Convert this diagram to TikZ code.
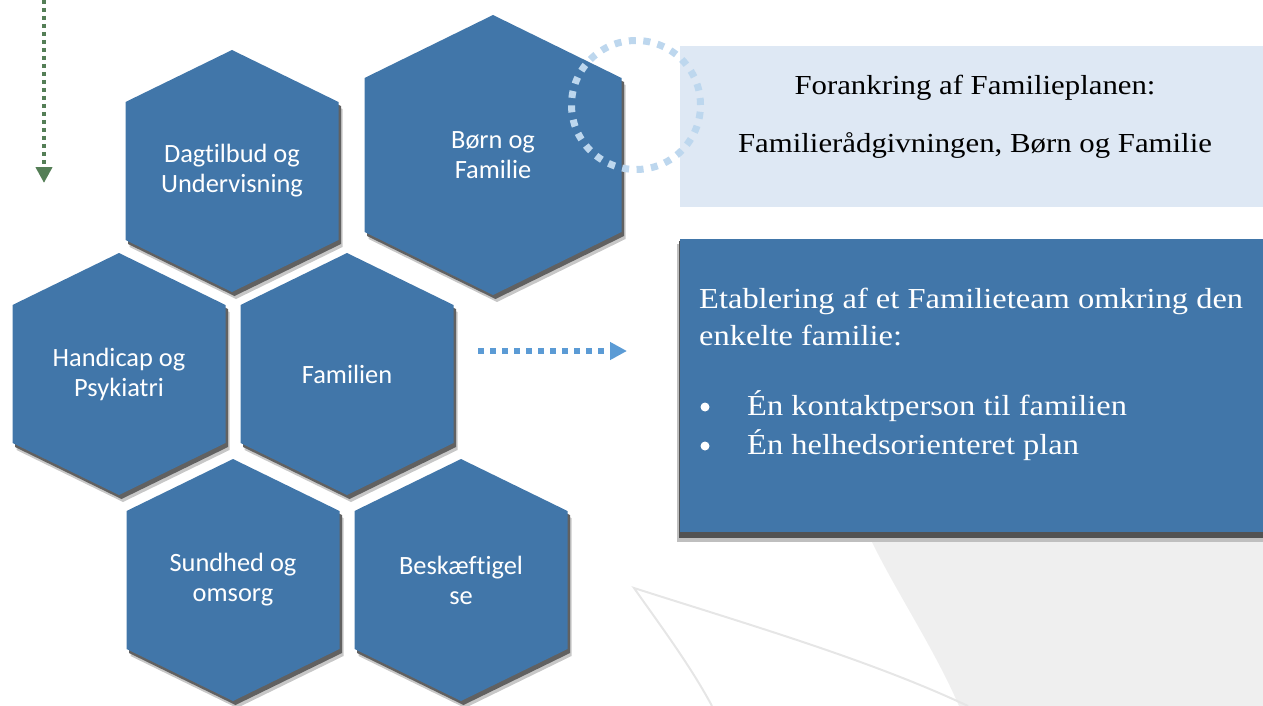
\documentclass[tikz,border=0pt]{standalone}
\usepackage{fontspec}
\newfontfamily\hexfont[Ligatures=NoCommon]{Carlito}
\newfontfamily\boxfont[FakeStretch=1.12]{Liberation Serif}
\usetikzlibrary{arrows.meta}

\definecolor{hexblue}{RGB}{65,118,169}
\definecolor{paleblue}{RGB}{222,232,244}
\definecolor{ringblue}{RGB}{189,215,238}
\definecolor{linkblue}{RGB}{91,155,213}
\definecolor{flowgreen}{RGB}{84,126,86}
\definecolor{bggrey}{RGB}{239,239,239}
\definecolor{edgegrey}{RGB}{230,230,230}

\tikzset{
  hex label/.style={text=white, align=center, font=\hexfont\fontsize{26.4}{30}\selectfont},
  box text/.style={anchor=base west, text=white, inner sep=0pt, font=\boxfont\fontsize{29}{38}\selectfont},
  plan text/.style={anchor=base, inner sep=0pt, font=\boxfont\fontsize{27.5}{36}\selectfont},
  bullet dot/.style={circle, fill=white, minimum size=9pt, inner sep=0pt},
  dotted link/.style={line width=6pt, dash pattern=on 6pt off 6pt, -{Triangle[length=17pt,width=17pt]}}
}

\begin{document}
\begin{tikzpicture}[x=1pt, y=-1pt]
\useasboundingbox (0,0) rectangle (1263,706);

\fill[bggrey] (871,540) .. controls (895,590) and (935,650) .. (959,706)
  -- (1263,706) -- (1263,540) -- cycle;
\draw[edgegrey, line width=2pt] (712,706) .. controls (690,665) and (660,625) .. (634,588)
  .. controls (750,625) and (870,660) .. (968,706);

\foreach \n/\x/\y/\hw/\hh/\hc/\txt in {
    dag/232/171/106.5/121/52/{Dagtilbud og\\Undervisning},
    born/493/155/128.5/140/63/{Børn og\\Familie},
    handicap/119/374/106.5/121/52/{Handicap og\\Psykiatri},
    familien/347/374/106.5/121/52/Familien,
    sundhed/233/580/106.5/121/52/{Sundhed og\\omsorg},
    besk/461/580/106.5/121/52/{Beskæftigel\\se}} {
  \fill[black!22, shift={(4,7)}] (\x,\y-\hh) -- (\x+\hw,\y-\hh+\hc) -- (\x+\hw,\y+\hh-\hc)
    -- (\x,\y+\hh) -- (\x-\hw,\y+\hh-\hc) -- (\x-\hw,\y-\hh+\hc) -- cycle;
  \fill[black!62, shift={(2.5,4)}] (\x,\y-\hh) -- (\x+\hw,\y-\hh+\hc) -- (\x+\hw,\y+\hh-\hc)
    -- (\x,\y+\hh) -- (\x-\hw,\y+\hh-\hc) -- (\x-\hw,\y-\hh+\hc) -- cycle;
  \fill[hexblue] (\x,\y-\hh) -- (\x+\hw,\y-\hh+\hc) -- (\x+\hw,\y+\hh-\hc)
    -- (\x,\y+\hh) -- (\x-\hw,\y+\hh-\hc) -- (\x-\hw,\y-\hh+\hc) -- cycle;
  \node[hex label] (\n) at (\x,\y) {\txt};
}

\node[fill=paleblue, minimum width=583pt, minimum height=161pt, inner sep=0pt,
  anchor=north west] (forankring) at (680,46) {};
\foreach \yy/\txt [count=\i] in {95/Forankring af Familieplanen:,
    152/{Familierådgivningen, Børn og Familie}}
  \node[plan text] (forankring-\i) at (975,\yy) {\txt};

\fill[black!25] (677,244) rectangle (1263,542);
\fill[black!68] (679,241) rectangle (1263,538);
\node[fill=hexblue, minimum width=583pt, minimum height=293pt, inner sep=0pt,
  anchor=north west] (team) at (680,239) {};
\foreach \yy/\txt [count=\i] in {308/Etablering af et Familieteam omkring den,
    345/enkelte familie:}
  \node[box text] (team-\i) at (699,\yy) {\txt};
\foreach \yy/\txt [count=\i] in {415/Én kontaktperson til familien,
    454/Én helhedsorienteret plan} {
  \node[bullet dot] (punkt-\i) at (705,\yy-8) {};
  \node[box text] (punkt-\i-tekst) at (747,\yy) {\txt};
}

\node[circle, draw=ringblue, line width=7pt, dash pattern=on 7pt off 7.5pt,
  minimum size=129pt, inner sep=0pt] (ring) at (636,105) {};

\coordinate (link-start) at (478,351);
\coordinate (link-end) at (627,351);
\draw[linkblue, dotted link] (link-start) -- (link-end);

\coordinate (flow-start) at (44,0);
\coordinate (flow-end) at (44,183);
\draw[flowgreen, line width=4pt, dash pattern=on 4pt off 4pt,
  -{Triangle[length=16pt,width=16pt]}] (flow-start) -- (flow-end);

\end{tikzpicture}
\end{document}
